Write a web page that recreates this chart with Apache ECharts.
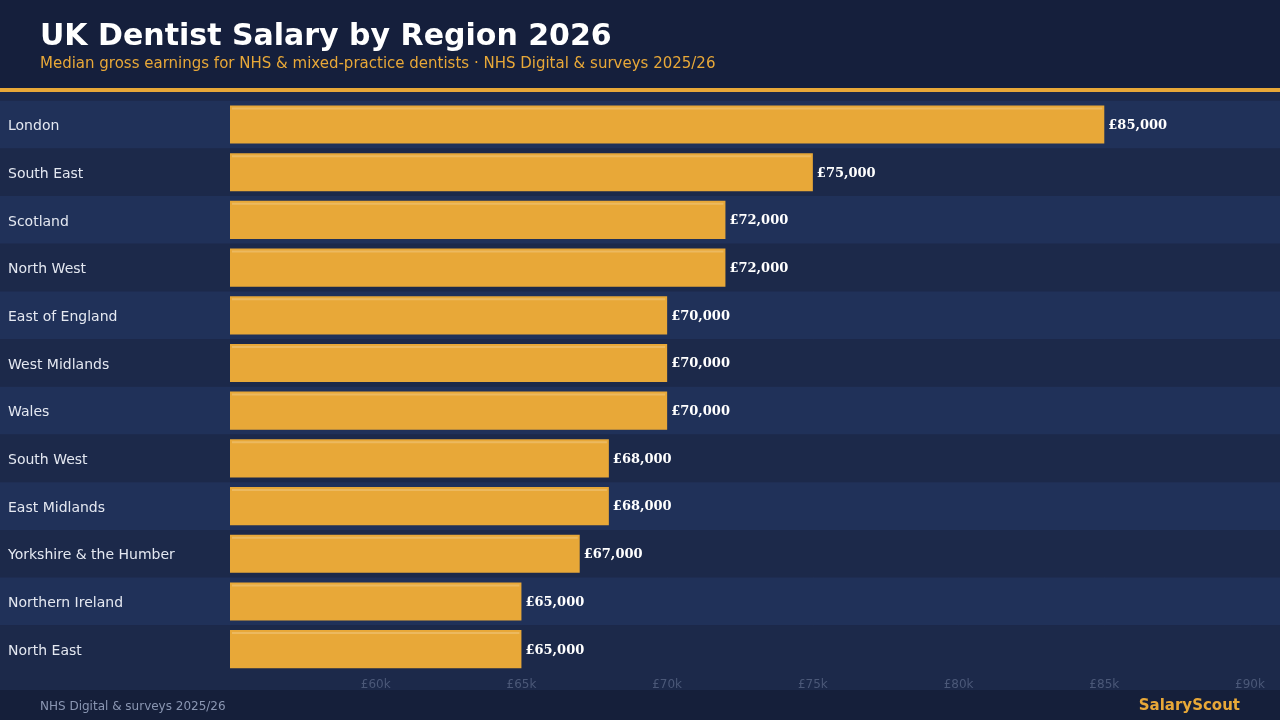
<!DOCTYPE html>
<html>
<head>
<meta charset="utf-8">
<script src="https://cdn.jsdelivr.net/npm/echarts@6/dist/echarts.min.js"></script>
<style>
html,body{margin:0;padding:0;background:#1c294a;}
#c{width:1280px;height:720px;}
</style>
</head>
<body>
<div id="c"></div>
<script>
const regions = ["London","South East","Scotland","North West","East of England","West Midlands","Wales","South West","East Midlands","Yorkshire & the Humber","Northern Ireland","North East"];
const salaries = [85000,75000,72000,72000,70000,70000,70000,68000,68000,67000,65000,65000];
const axisMin = 55000, axisMax = 90000, axisStep = 5000;

const titleText = "UK Dentist Salary by Region 2026";
const subtitleText = "Median gross earnings for NHS & mixed-practice dentists · NHS Digital & surveys 2025/26";
const footerText = "NHS Digital & surveys 2025/26";
const brandText = "SalaryScout";

const FONT = "DejaVu Sans";
const ORANGE = "#e8a838";

const chart = echarts.init(document.getElementById('c'), null, {renderer:'canvas'});
const gridTop = 100.7, gridBottom = 47;

chart.setOption({
  backgroundColor: '#1c294a',
  animation: false,
  graphic: [
    {type:'rect', z:-10, shape:{x:0,y:0,width:1280,height:88}, style:{fill:'#151f3c'}},
    {type:'rect', z:-10, shape:{x:0,y:88,width:1280,height:4}, style:{fill:ORANGE}},
    {type:'rect', z:-10, shape:{x:0,y:690,width:1280,height:30}, style:{fill:'#151f3a'}},
    {type:'text', left:40, top:22, style:{text:titleText, fill:'#ffffff', fontFamily:FONT, fontWeight:'bold', fontSize:30}},
    {type:'text', left:40, top:57, style:{text:subtitleText, fill:ORANGE, fontFamily:FONT, fontSize:15}},
    {type:'text', left:40, top:701, style:{text:footerText, fill:'#8a96b2', fontFamily:FONT, fontSize:12}},
    {type:'text', right:40, top:699, style:{text:brandText, fill:ORANGE, fontFamily:FONT, fontWeight:'bold', fontSize:15}}
  ],
  grid: [
    {left:0, right:0, top:gridTop, bottom:gridBottom, containLabel:false},
    {left:230, right:30, top:gridTop, bottom:gridBottom, containLabel:false}
  ],
  xAxis: [
    {gridIndex:0, type:'value', show:false, min:0, max:1},
    {gridIndex:1, type:'value', min:axisMin, max:axisMax, interval:axisStep,
     axisLine:{show:false}, axisTick:{show:false},
     splitLine:{show:true, lineStyle:{color:'rgba(255,255,255,0.035)', type:'dotted'}},
     axisLabel:{showMinLabel:false, color:'#4b5878', fontFamily:FONT, fontSize:12, margin:6,
       formatter: v => '£' + (v/1000) + 'k'}}
  ],
  yAxis: [
    {gridIndex:0, type:'category', data:regions, inverse:true,
     axisLine:{show:false}, axisTick:{show:false}, splitLine:{show:false},
     splitArea:{show:true, areaStyle:{color:['#203159','#1c294a']}},
     axisLabel:{inside:true, margin:8, align:'left',
       formatter: v => '{n|' + v + '}',
       rich:{n:{color:'#e4e8f1', fontFamily:FONT, fontSize:14, padding:[4,0,0,0]}}},
     z:1},
    {gridIndex:1, type:'category', data:regions, inverse:true,
     axisLine:{show:false}, axisTick:{show:false}, axisLabel:{show:false}, splitLine:{show:false}}
  ],
  series: [
    {type:'bar', xAxisIndex:1, yAxisIndex:1, data:salaries, barWidth:'80%', z:3,
     itemStyle:{color:ORANGE},
     label:{show:true, position:'right', distance:4, color:'#ffffff', offset:[0,1],
       fontFamily:'DejaVu Serif', fontWeight:'bold', fontSize:13,
       formatter: p => '£' + p.value.toLocaleString('en-GB')}},
    {type:'custom', xAxisIndex:1, yAxisIndex:1, z:4,
     data: salaries.map((v,i)=>[v,i]),
     encode:{x:0, y:1},
     renderItem: function(params, api){
       const idx = api.value(1);
       const s = api.coord([axisMin, idx]);
       const e = api.coord([api.value(0), idx]);
       const h = api.size([0,1])[1]*0.8;
       const top = s[1] - h/2;
       return {type:'rect', shape:{x:s[0]+2, y:top+2, width:e[0]-s[0]-4, height:2},
               style:{fill:'rgba(255,255,255,0.2)'}};
     }}
  ]
});
</script>
</body>
</html>
